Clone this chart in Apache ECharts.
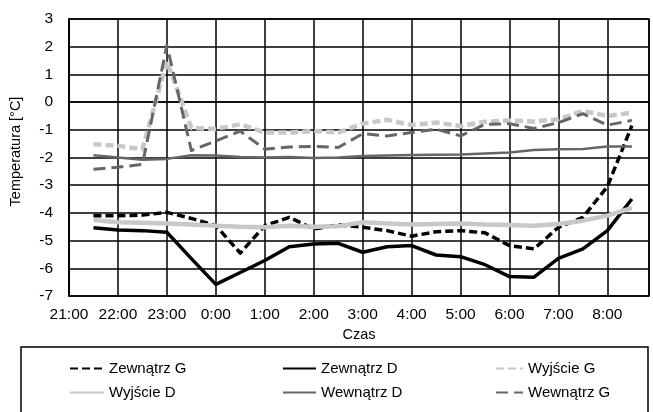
<!DOCTYPE html>
<html><head><meta charset="utf-8">
<script src="https://cdn.jsdelivr.net/npm/echarts@6/dist/echarts.min.js"></script>
<style>html,body{margin:0;padding:0;background:#fff}#c{width:653px;height:412px}</style>
</head><body><div id="c"></div>
<script>
const times = ['21:30','22:00','22:30','23:00','23:30','0:00','0:30','1:00','1:30','2:00','2:30','3:00','3:30','4:00','4:30','5:00','5:30','6:00','6:30','7:00','7:30','8:00','8:30'];
const zewnatrzG = [-4.1,-4.1,-4.08,-3.98,-4.2,-4.46,-5.45,-4.46,-4.16,-4.58,-4.43,-4.52,-4.64,-4.84,-4.68,-4.64,-4.72,-5.18,-5.3,-4.52,-4.16,-3.05,-0.85];
const zewnatrzD = [-4.54,-4.62,-4.64,-4.7,-5.65,-6.58,-6.15,-5.72,-5.22,-5.12,-5.1,-5.42,-5.22,-5.18,-5.52,-5.58,-5.87,-6.3,-6.32,-5.64,-5.3,-4.64,-3.5];
const wyjscieG = [-1.52,-1.58,-1.7,1.47,-0.93,-0.97,-0.8,-1.1,-1.1,-1.04,-1.1,-0.78,-0.64,-0.83,-0.74,-0.86,-0.71,-0.66,-0.7,-0.62,-0.32,-0.5,-0.38];
const wyjscieD = [-4.26,-4.34,-4.36,-4.38,-4.42,-4.46,-4.5,-4.52,-4.46,-4.5,-4.48,-4.34,-4.38,-4.42,-4.4,-4.38,-4.42,-4.44,-4.46,-4.4,-4.28,-4.1,-3.82];
const wewnatrzD = [-1.92,-2.0,-2.08,-2.05,-1.92,-1.93,-1.98,-2.0,-1.98,-2.02,-2.0,-1.95,-1.93,-1.91,-1.9,-1.89,-1.86,-1.82,-1.73,-1.7,-1.69,-1.6,-1.6];
const wewnatrzG = [-2.42,-2.35,-2.25,2.05,-1.75,-1.4,-1.05,-1.7,-1.62,-1.6,-1.64,-1.14,-1.22,-1.1,-0.98,-1.22,-0.8,-0.78,-0.95,-0.74,-0.42,-0.83,-0.66];
const yTicks = [-7,-6,-5,-4,-3,-2,-1,0,1,2,3];
const xTickLabels = ['21:00','22:00','23:00','0:00','1:00','2:00','3:00','4:00','5:00','6:00','7:00','8:00'];
const names = ['Zewnątrz G','Zewnątrz D','Wyjście G','Wyjście D','Wewnątrz D','Wewnątrz G'];

function toHours(t){ const p=t.split(':'); let h=+p[0]+(+p[1])/60 - 21; if(h<0) h+=24; return h; }
function pairs(arr){ return arr.map((v,i)=>[toHours(times[i]), v]); }

const FONT = 'Liberation Sans';
const styles = [
  {color:'#000', width:3.5, type:[8,4]},
  {color:'#000', width:3.5, type:'solid'},
  {color:'#c8c8c8', width:4.5, type:[8,4]},
  {color:'#c8c8c8', width:4.5, type:'solid'},
  {color:'#666', width:2.5, type:'solid'},
  {color:'#666', width:3, type:[12,6]}
];
const datas = [zewnatrzG, zewnatrzD, wyjscieG, wyjscieD, wewnatrzD, wewnatrzG];

const series = names.map((n,i)=>({
  name:n, type:'line', symbol:'none', data:pairs(datas[i]),
  lineStyle:{color:styles[i].color, width:styles[i].width, type:styles[i].type, join:'round'},
  itemStyle:{color:styles[i].color}, z:2+i
}));

const legPos = [[69,361,34],[282,361,33],[495,361,27],[69,385,34],[282,385,33],[495,385,27]];
const legends = names.map((n,i)=>({
  data:[n], left:legPos[i][0], top:legPos[i][1], itemWidth:legPos[i][2], itemHeight:14, itemGap:0, padding:0,
  itemStyle:{opacity:0},
  textStyle:{fontFamily:FONT, fontSize:15, color:'#000'}
}));

const chart = echarts.init(document.getElementById('c'), null, {renderer:'canvas'});
chart.setOption({
  animation:false,
  backgroundColor:'#fff',
  grid:{left:66, right:4, top:19, bottom:116, show:true, borderColor:'#000', borderWidth:1.5, containLabel:false},
  xAxis:{type:'value', min:0, max:11.85, interval:1,
    name:'Czas', nameLocation:'middle', nameGap:30, nameTextStyle:{fontFamily:FONT, fontSize:14.5, color:'#000'},
    axisLine:{show:true, lineStyle:{color:'#000', width:1.5}}, axisTick:{show:false},
    splitLine:{show:true, lineStyle:{color:'#000', width:1.5}},
    axisLabel:{fontFamily:FONT, fontSize:15.5, color:'#000', margin:11,
      formatter:v=>{ const k=Math.round(v); return Math.abs(v-k)<1e-6 && xTickLabels[k]!==undefined ? xTickLabels[k] : ''; }}
  },
  yAxis:{type:'value', min:yTicks[0], max:yTicks[yTicks.length-1], interval:1,
    name:'Temperatura [°C]', nameLocation:'middle', nameGap:46, nameTextStyle:{fontFamily:FONT, fontSize:14.5, color:'#000', padding:[0,0,0,12]},
    axisLine:{show:true, lineStyle:{color:'#000', width:1.5}}, axisTick:{show:false},
    splitLine:{show:true, lineStyle:{color:'#000', width:1.5}},
    axisLabel:{fontFamily:FONT, fontSize:15.5, color:'#000', margin:16}
  },
  legend:legends,
  graphic:[{type:'rect', shape:{x:21, y:347, width:627, height:80}, style:{fill:'none', stroke:'#000', lineWidth:1.5}, z:0}],
  series:series
});
</script></body></html>
